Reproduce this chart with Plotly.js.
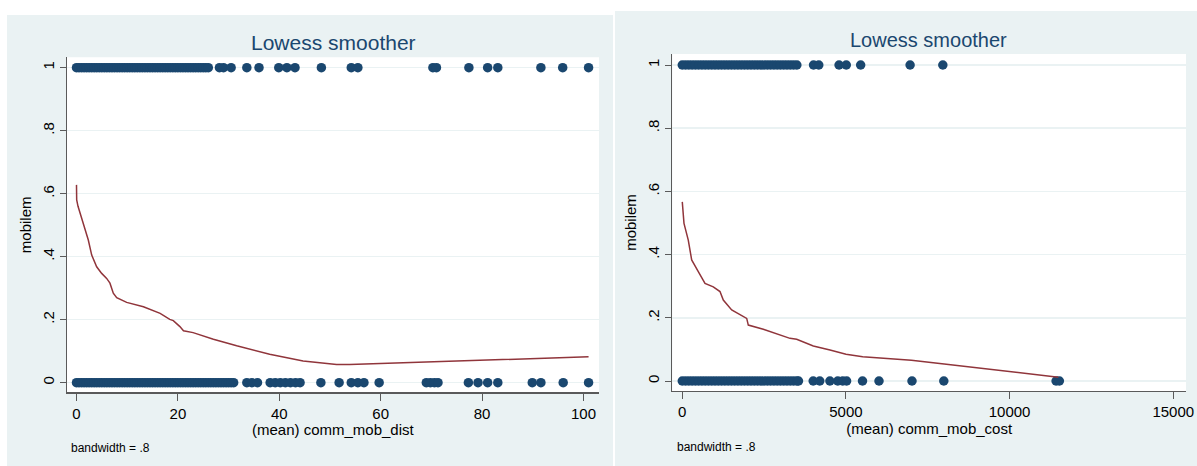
<!DOCTYPE html>
<html>
<head>
<meta charset="utf-8">
<script src="https://cdn.plot.ly/plotly-3.0.1.min.js"></script>
<style>
  html, body { margin: 0; padding: 0; background: #ffffff; }
  #chart { width: 1197px; height: 466px; }
</style>
</head>
<body>
<div id="chart"></div>
<script>
// ---------- Data: left panel (comm_mob_dist) ----------
const distOnesX = [0,0.5,1,1.5,2,2.5,3,3.5,4,4.5,5,5.5,6,6.5,7,7.5,8,8.5,9,9.5,10,10.5,11,11.5,12,12.5,13,13.5,14,14.5,15,15.5,16,16.5,17,17.5,18,18.5,19,19.5,20,20.5,21,21.5,22,22.5,23,23.5,24,24.5,25,25.5,26,28.2,29,30.5,33.6,36,39.9,41.5,43.1,48.3,54.2,55.5,70.3,71,77.4,81.1,83.1,91.6,95.9,101];
const distZerosX = [0,0.5,1,1.5,2,2.5,3,3.5,4,4.5,5,5.5,6,6.5,7,7.5,8,8.5,9,9.5,10,10.5,11,11.5,12,12.5,13,13.5,14,14.5,15,15.5,16,16.5,17,17.5,18,18.5,19,19.5,20,20.5,21,21.5,22,22.5,23,23.5,24,24.5,25,25.5,26,26.5,27,27.5,28,28.5,29,29.5,30,30.5,31,33.6,34.6,35.7,38.2,39.2,40.2,41.2,42.2,43.2,44.1,48.2,51.8,54.2,55.5,56.7,59.7,69,69.8,70.6,71.3,77.3,79.2,81.1,83.1,89.9,91.6,96,101];
const distLowessX = [0,0.04,0.3,0.69,1.5,2.33,3.0,3.98,4.97,5.95,6.6,7.26,7.93,9.9,13.2,16.5,18.4,19.1,20.4,21.1,23.0,25.0,27.0,31.6,38.1,44.7,51.3,53.9,58,64.5,77.6,90,101];
const distLowessY = [0.628,0.58,0.56,0.538,0.495,0.453,0.405,0.368,0.347,0.331,0.316,0.284,0.270,0.255,0.241,0.220,0.201,0.197,0.178,0.165,0.159,0.148,0.138,0.117,0.090,0.069,0.058,0.058,0.060,0.063,0.070,0.076,0.082];

// ---------- Data: right panel (comm_mob_cost) ----------
const costOnesX = [0,100,200,300,400,500,600,700,800,900,1000,1100,1200,1300,1400,1500,1600,1700,1800,1900,2000,2100,2200,2300,2400,2500,2600,2700,2800,2900,3000,3100,3200,3300,3400,3500,4010,4170,4790,5010,5450,6960,7960];
const costZerosX = [0,100,200,300,400,500,600,700,800,900,1000,1100,1200,1300,1400,1500,1600,1700,1800,1900,2000,2100,2200,2300,2400,2500,2600,2700,2800,2900,3000,3100,3200,3300,3400,3500,3550,4000,4200,4510,4750,4900,5020,5506,6010,7018,7990,11420,11520];
const costLowessX = [0,52,183,287,489,694,947,1152,1253,1509,1968,2017,2475,2780,3291,3495,4003,4513,5002,5512,7000,8000,11490];
const costLowessY = [0.567,0.499,0.446,0.383,0.346,0.309,0.298,0.283,0.256,0.225,0.198,0.177,0.164,0.153,0.135,0.132,0.111,0.098,0.085,0.077,0.066,0.054,0.012];

// ---------- Labels ----------
const chartTitle = "Lowess smoother";
const yTitle = "mobilem";
const distXTitle = "(mean) comm_mob_dist";
const costXTitle = "(mean) comm_mob_cost";
const noteText = "bandwidth = .8";
const yTickVals = [0, 0.2, 0.4, 0.6, 0.8, 1];
const yTickText = ["0", ".2", ".4", ".6", ".8", "1"];
const distTickVals = [0, 20, 40, 60, 80, 100];
const distTickText = ["0", "20", "40", "60", "80", "100"];
const costTickVals = [0, 5000, 10000, 15000];
const costTickText = ["0", "5000", "10000", "15000"];
const outcomeOne = 1, outcomeZero = 0;

// ---------- Styling ----------
const W = 1197, H = 466;
const px = v => v / W;
const py = v => 1 - v / H;
const FONT = "Liberation Sans, Arial, Helvetica, sans-serif";
const NAVY = "#1a476f";
const MAROON = "#90353b";
const BG = "#eaf2f3";
const AXIS = "#5a5a5a";

function pts(xs, yv, xa, ya) {
  return {
    type: "scatter", mode: "markers", x: xs, y: xs.map(() => yv),
    xaxis: xa, yaxis: ya,
    marker: { color: NAVY, size: 9.5, line: { width: 0 } },
    hoverinfo: "skip", showlegend: false, cliponaxis: false
  };
}
function line(xs, ys, xa, ya) {
  return {
    type: "scatter", mode: "lines", x: xs, y: ys, xaxis: xa, yaxis: ya,
    line: { color: MAROON, width: 1.5, shape: "linear" },
    hoverinfo: "skip", showlegend: false
  };
}

const data = [
  pts(distOnesX, outcomeOne, "x", "y"),
  pts(distZerosX, outcomeZero, "x", "y"),
  line(distLowessX, distLowessY, "x", "y"),
  pts(costOnesX, outcomeOne, "x2", "y2"),
  pts(costZerosX, outcomeZero, "x2", "y2"),
  line(costLowessX, costLowessY, "x2", "y2")
];

function yAxis(domain, range, anchor) {
  return {
    domain: domain, range: range, anchor: anchor,
    tickvals: yTickVals, ticktext: yTickText, tickangle: -90,
    ticks: "outside", ticklen: 6, tickwidth: 1, tickcolor: AXIS,
    showline: true, linecolor: AXIS, linewidth: 1.2,
    showgrid: true, gridcolor: BG, gridwidth: 1.5, zeroline: false,
    tickfont: { family: FONT, size: 15, color: "#000" },
    title: { text: yTitle, font: { family: FONT, size: 15, color: "#000" }, standoff: 4 },
    automargin: false, fixedrange: true
  };
}
function xAxis(domain, range, anchor, tickvals, ticktext, title) {
  return {
    domain: domain, range: range, anchor: anchor,
    tickvals: tickvals, ticktext: ticktext,
    ticks: "outside", ticklen: 7, tickwidth: 1, tickcolor: AXIS,
    showline: true, linecolor: AXIS, linewidth: 1.2,
    showgrid: false, zeroline: false,
    tickfont: { family: FONT, size: 15, color: "#000" },
    title: { text: title, font: { family: FONT, size: 15, color: "#000" }, standoff: 2 },
    automargin: false, fixedrange: true
  };
}

const layout = {
  width: W, height: H,
  margin: { l: 0, r: 0, t: 0, b: 0 },
  paper_bgcolor: "#ffffff",
  plot_bgcolor: "rgba(0,0,0,0)",
  showlegend: false,
  xaxis: xAxis([px(66.7), px(599)], [-1.93, 103.06], "y", distTickVals, distTickText, distXTitle),
  yaxis: yAxis([py(392.3), py(57.3)], [-0.0305, 1.033], "x"),
  xaxis2: xAxis([px(672.3), px(1186)], [-305, 15389], "y2", costTickVals, costTickText, costXTitle),
  yaxis2: yAxis([py(391), py(54)], [-0.0316, 1.0348], "x2"),
  shapes: [
    { type: "rect", xref: "paper", yref: "paper", x0: px(7), x1: px(613), y0: 0, y1: py(15), fillcolor: BG, line: { width: 0 }, layer: "below" },
    { type: "rect", xref: "paper", yref: "paper", x0: px(615), x1: 1, y0: 0, y1: py(11), fillcolor: BG, line: { width: 0 }, layer: "below" },
    { type: "rect", xref: "paper", yref: "paper", x0: px(66.7), x1: px(599), y0: py(392.3), y1: py(57.3), fillcolor: "#ffffff", line: { width: 0 }, layer: "below" },
    { type: "rect", xref: "paper", yref: "paper", x0: px(672.3), x1: px(1186), y0: py(391), y1: py(54), fillcolor: "#ffffff", line: { width: 0 }, layer: "below" }
  ],
  annotations: [
    { text: chartTitle, xref: "paper", yref: "paper", x: px(333), y: py(42), xanchor: "center", yanchor: "middle", showarrow: false, font: { family: FONT, size: 21, color: NAVY } },
    { text: chartTitle, xref: "paper", yref: "paper", x: px(928), y: py(40), xanchor: "center", yanchor: "middle", showarrow: false, font: { family: FONT, size: 20, color: NAVY } },
    { text: noteText, xref: "paper", yref: "paper", x: px(69), y: py(448), xanchor: "left", yanchor: "middle", showarrow: false, font: { family: FONT, size: 12, color: "#000" } },
    { text: noteText, xref: "paper", yref: "paper", x: px(675), y: py(447), xanchor: "left", yanchor: "middle", showarrow: false, font: { family: FONT, size: 12, color: "#000" } }
  ]
};

Plotly.newPlot("chart", data, layout, { staticPlot: true, displayModeBar: false });
</script>
</body>
</html>
